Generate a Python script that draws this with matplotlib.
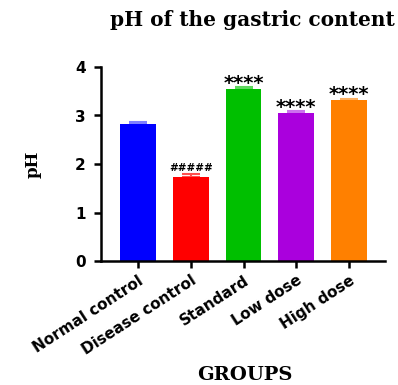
import matplotlib.pyplot as plt
import numpy as np

groups = ["Normal control", "Disease control", "Standard", "Low dose", "High dose"]
ph_mean = [2.82, 1.73, 3.55, 3.05, 3.31]
ph_sem = [0.04, 0.06, 0.03, 0.04, 0.04]
sig_marks = ["", "#####", "****", "****", "****"]

bar_colors = ["#0000ff", "#ff0000", "#00bf00", "#aa00dd", "#ff8000"]
cap_colors = ["#7f7fff", "#ff5050", "#60d860", "#cc70ee", "#ffb060"]

fig = plt.figure(figsize=(3.98, 3.85), dpi=100)
ax = fig.add_axes([0.254, 0.322, 0.713, 0.504])

x = np.arange(len(groups))
ax.bar(x, ph_mean, width=0.68, color=bar_colors, zorder=2)
for xi, m, e, c in zip(x, ph_mean, ph_sem, cap_colors):
    ax.errorbar(xi, m, yerr=[[0], [e]], color=c, capsize=6.5, capthick=1.5,
                elinewidth=1.5, zorder=1)

# significance marks above each treated group
for xi, m, e, s in zip(x, ph_mean, ph_sem, sig_marks):
    if not s:
        continue
    if s.startswith("#"):
        ax.annotate(s, (xi, m + e), xytext=(0, 1), textcoords="offset points",
                    ha="center", va="bottom", fontsize=7.5, fontweight="bold",
                    family="DejaVu Sans")
    else:
        ax.annotate(s, (xi, m + e), xytext=(0, -4), textcoords="offset points",
                    ha="center", va="bottom", fontsize=14, fontweight="bold",
                    family="DejaVu Sans")

ax.set_xlim(-0.70, 4.68)
ax.set_ylim(0, 4)
ax.set_yticks([0, 1, 2, 3, 4])
ax.set_xticks(x)
ax.set_xticklabels(groups, rotation=33, ha="right", rotation_mode="anchor",
                   fontsize=11, fontweight="bold", family="DejaVu Sans")
for lbl in ax.get_yticklabels():
    lbl.set_fontweight("bold")
    lbl.set_fontsize(11)
    lbl.set_family("DejaVu Sans")

ax.spines["top"].set_visible(False)
ax.spines["right"].set_visible(False)
ax.spines["left"].set_linewidth(1.8)
ax.spines["bottom"].set_linewidth(1.8)
ax.tick_params(axis="both", length=5, width=1.8, color="black")
ax.tick_params(axis="y", pad=6)

ax.set_ylabel("pH", fontsize=12, fontweight="bold", family="DejaVu Serif", labelpad=24)
fig.text(0.615, 0.027, "GROUPS", ha="center", va="center", fontsize=14,
         fontweight="bold", family="DejaVu Serif")
fig.text(0.635, 0.948, "pH of the gastric content", ha="center", va="center",
         fontsize=14.5, fontweight="bold", family="DejaVu Serif")

fig.savefig("out.png", dpi=100)
